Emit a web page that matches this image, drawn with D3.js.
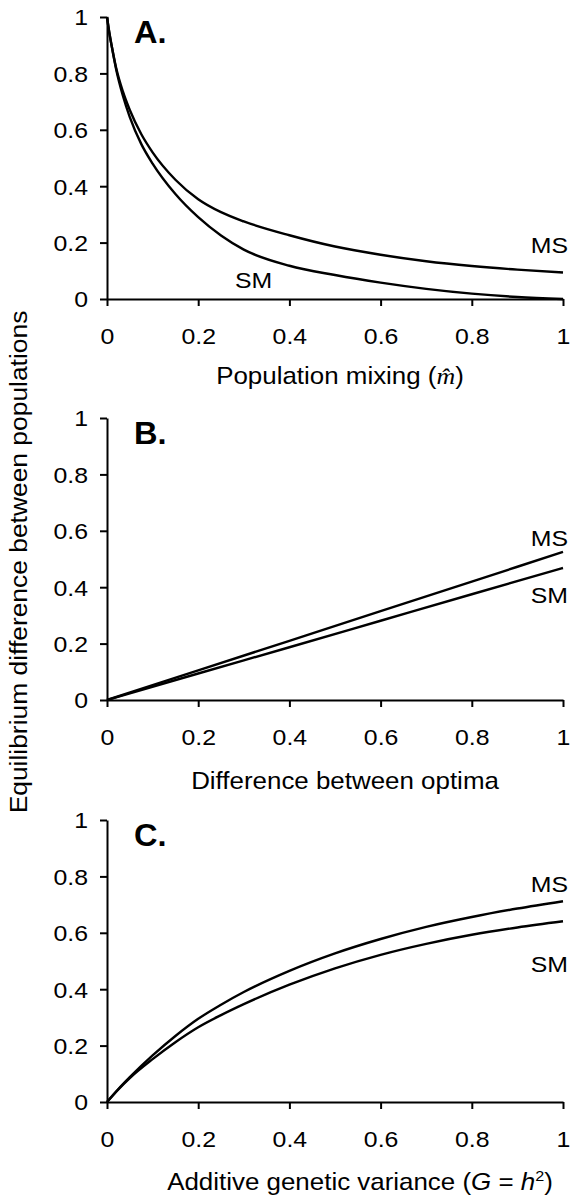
<!DOCTYPE html>
<html>
<head>
<meta charset="utf-8">
<script src="https://cdn.jsdelivr.net/npm/d3@7"></script>
<style>
  html, body { margin: 0; padding: 0; background: #fff; }
  svg { display: block; }
</style>
</head>
<body>
<svg id="chart" width="573" height="1198"></svg>
<script>
// ---------- data ----------
const tickValues = [0, 0.2, 0.4, 0.6, 0.8, 1];
const tickLabels = ["0", "0.2", "0.4", "0.6", "0.8", "1"];

const xA  = [0, 0.005, 0.01, 0.02, 0.035, 0.05, 0.075, 0.1, 0.15, 0.2, 0.25, 0.3, 0.4, 0.5, 0.6, 0.7, 0.8, 0.9, 1];
const msA = [1, 0.945, 0.9, 0.82, 0.735, 0.67, 0.585, 0.52, 0.423, 0.354, 0.308, 0.275, 0.226, 0.186, 0.157, 0.134, 0.117, 0.104, 0.094];
const smA = [1, 0.945, 0.9, 0.815, 0.72, 0.645, 0.55, 0.48, 0.372, 0.29, 0.225, 0.175, 0.118, 0.085, 0.058, 0.036, 0.019, 0.007, 0];

const xB  = [0, 0.2, 0.4, 0.6, 0.8, 1];
const msB = [0, 0.105, 0.21, 0.315, 0.42, 0.525];
const smB = [0, 0.094, 0.187, 0.281, 0.375, 0.468];

const xC  = [0, 0.025, 0.05, 0.1, 0.15, 0.2, 0.25, 0.3, 0.4, 0.5, 0.6, 0.7, 0.8, 0.9, 1];
const msC = [0, 0.046, 0.088, 0.165, 0.234, 0.295, 0.345, 0.39, 0.465, 0.527, 0.578, 0.621, 0.656, 0.686, 0.712];
const smC = [0, 0.045, 0.085, 0.152, 0.212, 0.265, 0.308, 0.347, 0.416, 0.474, 0.522, 0.561, 0.593, 0.619, 0.641];

const panelLetters = ["A.", "B.", "C."];
const xTitles = ["Population mixing", "Difference between optima", "Additive genetic variance"];
const yTitle = "Equilibrium difference between populations";
const seriesNames = ["MS", "SM"];

// ---------- layout ----------
const svg = d3.select("#chart");
const FONT = "'Liberation Sans', Arial, Helvetica, sans-serif";
const X0 = 107, X1 = 563, PH = 282;
const panelTops = [17, 418, 820];
const SX_SMALL = 1.13, SX_TITLE = 1.08;

const x = d3.scaleLinear().domain([0, 1]).range([X0, X1]);

function txt(parent, px, py, opts) {
  const t = parent.append("text")
    .attr("transform", `translate(${px},${py}) scale(${opts.sx || 1},1)`)
    .attr("text-anchor", opts.anchor || "start")
    .attr("font-family", FONT)
    .attr("font-size", opts.size || 22)
    .attr("font-weight", opts.weight || "normal")
    .attr("fill", "#000");
  if (opts.text !== undefined) t.text(opts.text);
  return t;
}

const panels = [
  {x: xA, ms: msA, sm: smA,
   msLab: {x: 568, y: 253, anchor: "end"}, smLab: {x: 235, y: 288, anchor: "start"},
   title: {x: 340, y: 384}},
  {x: xB, ms: msB, sm: smB,
   msLab: {x: 568, y: 546, anchor: "end"}, smLab: {x: 568, y: 603, anchor: "end"},
   title: {x: 345, y: 789}},
  {x: xC, ms: msC, sm: smC,
   msLab: {x: 568, y: 892, anchor: "end"}, smLab: {x: 568, y: 972, anchor: "end"},
   title: {x: 360, y: 1190}}
];

panels.forEach((p, i) => {
  const top = panelTops[i];
  const y = d3.scaleLinear().domain([0, 1]).range([top + PH, top]);
  const g = svg.append("g");

  // y axis
  const ya = g.append("g").attr("transform", `translate(${X0},0)`)
    .call(d3.axisLeft(y).tickValues(tickValues).tickFormat((d, k) => tickLabels[k])
      .tickSize(7).tickSizeOuter(0).tickPadding(12));
  ya.select(".domain").attr("stroke", "#000").attr("stroke-width", 2);
  ya.selectAll(".tick line").attr("stroke", "#000").attr("stroke-width", 2);
  ya.selectAll(".tick text")
    .attr("font-family", FONT).attr("font-size", 22).attr("fill", "#000")
    .attr("x", -19 / SX_SMALL).attr("dy", "0.36em")
    .attr("transform", `scale(${SX_SMALL},1)`);

  // x axis
  const xa = g.append("g").attr("transform", `translate(0,${top + PH})`)
    .call(d3.axisBottom(x).tickValues(tickValues).tickFormat((d, k) => tickLabels[k])
      .tickSize(7).tickSizeOuter(0));
  xa.select(".domain").attr("stroke", "#000").attr("stroke-width", 2);
  xa.selectAll(".tick line").attr("stroke", "#000").attr("stroke-width", 2);
  xa.selectAll(".tick text")
    .attr("font-family", FONT).attr("font-size", 22).attr("fill", "#000")
    .attr("y", 45).attr("dy", 0)
    .attr("transform", `scale(${SX_SMALL},1)`);

  // curves
  const line = d3.line().x((d, k) => x(p.x[k])).y(d => y(d)).curve(d3.curveMonotoneX);
  [p.ms, p.sm].forEach(vals => {
    g.append("path").attr("d", line(vals))
      .attr("fill", "none").attr("stroke", "#000").attr("stroke-width", 2.4)
      .attr("stroke-linejoin", "round");
  });

  // series labels
  txt(g, p.msLab.x, p.msLab.y, {text: seriesNames[0], anchor: p.msLab.anchor, size: 22, sx: SX_SMALL});
  txt(g, p.smLab.x, p.smLab.y, {text: seriesNames[1], anchor: p.smLab.anchor, size: 22, sx: SX_SMALL});

  // panel letter
  txt(g, 134, top + 26, {text: panelLetters[i], size: 31, weight: "bold", sx: 1.05});

  // x title
  const t = txt(g, p.title.x, p.title.y, {anchor: "middle", size: 24, sx: SX_TITLE});
  if (i === 0) {
    t.append("tspan").text(xTitles[i] + " (");
    t.append("tspan").attr("font-family", "'Liberation Serif', 'Times New Roman', serif")
      .attr("font-style", "italic").text("m\u0302");
    t.append("tspan").text(")");
  } else if (i === 1) {
    t.text(xTitles[i]);
  } else {
    t.append("tspan").text(xTitles[i] + " (");
    t.append("tspan").attr("font-style", "italic").text("G");
    t.append("tspan").text(" = ");
    t.append("tspan").attr("font-style", "italic").text("h");
    t.append("tspan").attr("font-size", 15).attr("dy", -9).text("2");
    t.append("tspan").attr("dy", 9).text(")");
  }
});

// shared y title
txt(svg, 0, 0, {text: yTitle, anchor: "middle", size: 24, sx: 1.1})
  .attr("transform", `translate(27,562) rotate(-90) scale(1.1,1)`);
</script>
</body>
</html>
